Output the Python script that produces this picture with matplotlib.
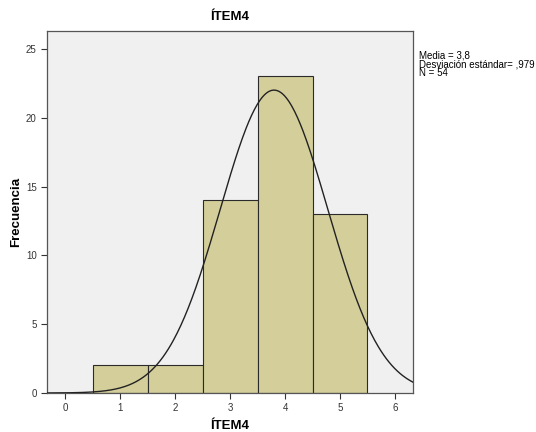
import numpy as np
import matplotlib.pyplot as plt

plt.rcParams['font.family'] = ['Liberation Sans', 'DejaVu Sans']

# frequency table for the item
values = [1, 2, 3, 4, 5]
counts = [2, 2, 14, 23, 13]
mean = 3.8
std = 0.979
n = 54

fig = plt.figure(figsize=(5.36, 4.32), dpi=100)
ax = fig.add_axes([0.0877, 0.0903, 0.683, 0.838])
ax.set_facecolor('#f0f0f0')

ax.bar(values, counts, width=1.0, color='#d3ce9a', edgecolor='#2b2b2b',
       linewidth=0.8, zorder=2)

# normal curve scaled to counts
xs = np.linspace(-0.33, 6.33, 400)
ys = n * 1.0 / (std * np.sqrt(2 * np.pi)) * np.exp(-0.5 * ((xs - mean) / std) ** 2)
ax.plot(xs, ys, color='#222222', linewidth=1.0, zorder=3)

ax.set_xlim(-0.33, 6.33)
ax.set_ylim(0, 26.3)
ax.set_xticks(range(0, 7))
ax.set_yticks(range(0, 26, 5))
ax.tick_params(labelsize=7, colors='#333333', length=4, width=0.8)
for s in ax.spines.values():
    s.set_color('#555555')
    s.set_linewidth(0.9)

ax.set_title('ÍTEM4', fontsize=9.5, fontweight='bold', pad=8)
ax.set_xlabel('ÍTEM4', fontsize=9.5, fontweight='bold', labelpad=5)
ax.set_ylabel('Frecuencia', fontsize=9.5, fontweight='bold', labelpad=3)

fig.text(0.782, 0.884, 'Media = 3,8\nDesviación estándar= ,979\nN = 54',
         fontsize=7, va='top', ha='left', linespacing=0.88)

fig.savefig('out.png', dpi=100)
